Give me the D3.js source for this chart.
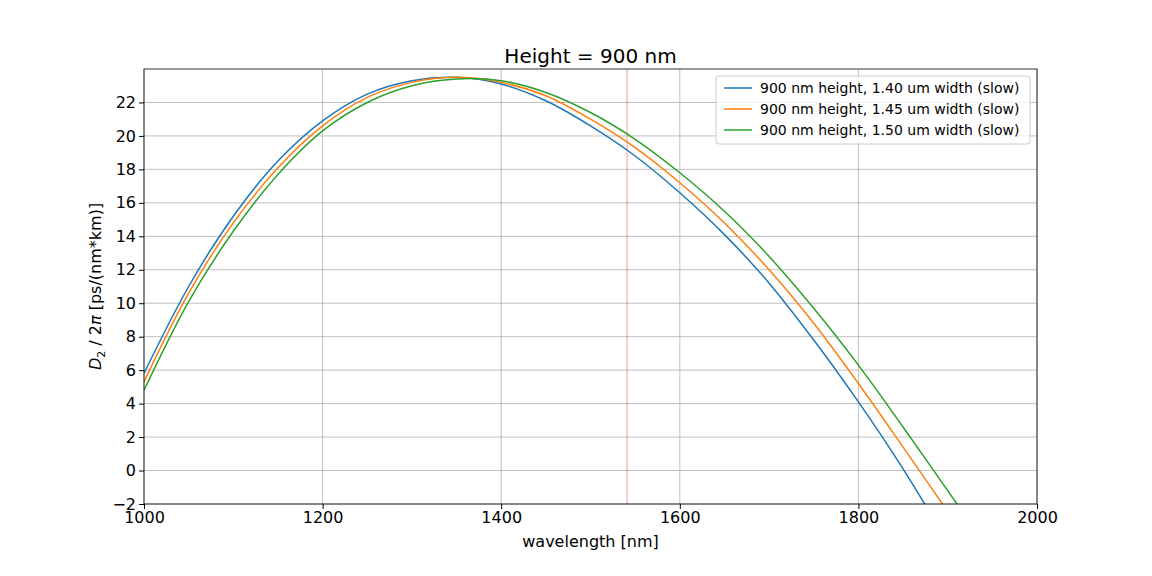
<!DOCTYPE html>
<html><head><meta charset="utf-8">
<script src="https://cdn.jsdelivr.net/npm/d3@7"></script>
<style>body{margin:0;background:#fff;font-family:"DejaVu Sans",sans-serif}</style>
</head><body><svg id="c" width="1152" height="576"></svg>
<script>
const xTicks = [1000, 1200, 1400, 1600, 1800, 2000];
const yTicks = d3.range(-2, 23, 2);
const wl = [1000,1050,1100,1150,1200,1250,1300,1350,1400,1450,1500,1550,1600,1650,1700,1750,1800,1850];
const s140 = [5.8,11.0,15.2,18.5,20.9,22.5,23.3,23.5,23.1,22.1,20.6,18.8,16.6,14.1,11.2,7.8,4.1,0.1];
const s145 = [5.3,10.6,14.8,18.1,20.6,22.3,23.2,23.5,23.2,22.4,21.0,19.3,17.2,14.8,12.0,8.8,5.2,1.4];
const s150 = [4.8,10.1,14.3,17.7,20.3,22.0,23.0,23.4,23.3,22.6,21.4,19.8,17.8,15.5,12.8,9.7,6.3,2.6];
const tails = [[1900,-4.3],[1920,-4.0],[1930,-3.5]];
const labels = ["900 nm height, 1.40 um width (slow)","900 nm height, 1.45 um width (slow)","900 nm height, 1.50 um width (slow)"];
const colors = ["#1f77b4","#ff7f0e","#2ca02c"];
const redLine = 1541;

const svg = d3.select("#c");
const L=144,R=1037,T=69,B=504;
const x = d3.scaleLinear().domain([1000,2000]).range([L,R]);
const y = d3.scaleLinear().domain([-2,24]).range([B,T]);

svg.append("defs").append("clipPath").attr("id","cp").append("rect")
  .attr("x",L).attr("y",T).attr("width",R-L).attr("height",B-T);

const g = svg.append("g");
g.selectAll(".vg").data(xTicks).join("line").attr("x1",d=>x(d)).attr("x2",d=>x(d))
  .attr("y1",T).attr("y2",B).attr("stroke","#b0b0b0").attr("stroke-width",0.8);
g.selectAll(".hg").data(yTicks).join("line").attr("y1",d=>y(d)).attr("y2",d=>y(d))
  .attr("x1",L).attr("x2",R).attr("stroke","#b0b0b0").attr("stroke-width",0.8);

svg.append("line").attr("x1",x(redLine)).attr("x2",x(redLine)).attr("y1",T).attr("y2",B)
  .attr("stroke","red").attr("stroke-opacity",0.35).attr("stroke-width",1.2);

const line = d3.line().x(d=>x(d[0])).y(d=>y(d[1])).curve(d3.curveCatmullRom);
[s140,s145,s150].forEach((s,i)=>{
  const pts = wl.map((w,j)=>[w,s[j]]).concat([tails[i]]);
  svg.append("path").attr("d",line(pts)).attr("fill","none").attr("stroke",colors[i])
    .attr("stroke-width",1.5).attr("clip-path","url(#cp)");
});

const xa = svg.append("g").attr("transform",`translate(0,${B})`)
  .call(d3.axisBottom(x).tickValues(xTicks).tickSize(5).tickPadding(3).tickFormat(d=>String(d)));
const ya = svg.append("g").attr("transform",`translate(${L},0)`)
  .call(d3.axisLeft(y).tickValues(yTicks).tickSize(5).tickPadding(3).tickFormat(d=>d<0?"\u2212"+(-d):d));
[xa,ya].forEach(a=>{a.selectAll("text").attr("font-size",16).attr("fill","#000").attr("font-family","DejaVu Sans");
  a.select(".domain").remove(); a.selectAll(".tick line").attr("stroke","#000");});
svg.append("rect").attr("x",L).attr("y",T).attr("width",R-L).attr("height",B-T)
  .attr("fill","none").attr("stroke","#000").attr("stroke-width",0.8);

svg.append("text").attr("x",(L+R)/2).attr("y",63).attr("text-anchor","middle")
  .attr("font-size",20).text("Height = 900 nm");
svg.append("text").attr("x",(L+R)/2).attr("y",547).attr("text-anchor","middle")
  .attr("font-size",16).text("wavelength [nm]");
const yl = svg.append("text").attr("transform",`translate(101,${(T+B)/2}) rotate(-90)`)
  .attr("text-anchor","middle").attr("font-size",16);
yl.append("tspan").attr("font-style","italic").text("D");
yl.append("tspan").attr("font-size",11).attr("dy",4).text("2");
yl.append("tspan").attr("dy",-4).text(" / 2");
yl.append("tspan").attr("font-style","italic").text("π");
yl.append("tspan").text(" [ps/(nm*km)]");

const lg = svg.append("g").attr("transform","translate(716,76)");
lg.append("rect").attr("width",314).attr("height",68).attr("rx",3).attr("fill","#fff")
  .attr("fill-opacity",0.8).attr("stroke","#ccc");
labels.forEach((t,i)=>{
  const yy = 12+i*21;
  lg.append("line").attr("x1",8).attr("x2",36).attr("y1",yy).attr("y2",yy).attr("stroke",colors[i]).attr("stroke-width",1.5);
  lg.append("text").attr("x",44).attr("y",yy+5).attr("font-size",14).text(t);
});
</script></body></html>
